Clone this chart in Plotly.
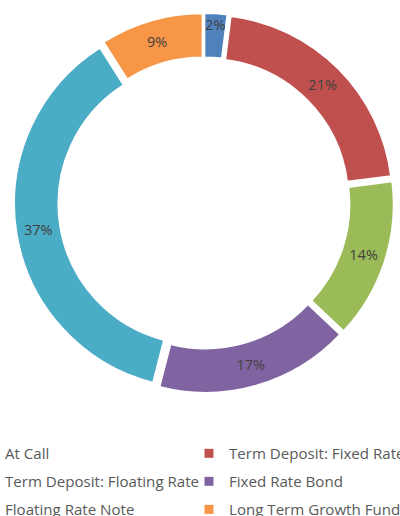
import plotly.graph_objects as go

categories = ["At Call", "Term Deposit: Fixed Rate", "Term Deposit: Floating Rate",
              "Fixed Rate Bond", "Floating Rate Note", "Long Term Growth Fund"]
values = [2, 21, 14, 17, 37, 9]
colors = ["#4F81BD", "#C0504D", "#9BBB59", "#8064A2", "#4BACC6", "#F79646"]

W, H = 400, 516
cx, cy, R = 204, 203, 190
PULL = 0.027

fig = go.Figure()
fig.add_trace(go.Pie(
    labels=categories,
    values=values,
    sort=False,
    direction="clockwise",
    rotation=0,
    hole=0.76,
    pull=[PULL] * len(values),
    marker=dict(colors=colors, line=dict(color="white", width=2)),
    texttemplate="%{percent:.0%}",
    textposition="inside",
    insidetextorientation="horizontal",
    textfont=dict(family="Open Sans", size=14.5, color="#404040"),
    domain=dict(x=[(cx - R) / W, (cx + R) / W],
                y=[(H - cy - R) / H, (H - cy + R) / H]),
    showlegend=False,
    hoverinfo="label+percent",
))

# legend entries (two columns, filled row by row)
for i, (name, col) in enumerate(zip(categories, colors)):
    fig.add_trace(go.Scatter(
        x=[None], y=[None], mode="markers", name=name,
        marker=dict(symbol="square", size=9, color=col),
        legend="legend" if i % 2 == 0 else "legend2",
        legendgroup=f"g{i}", showlegend=True, hoverinfo="skip",
    ))

legend_font = dict(family="Open Sans", size=15.1, color="#595959")
legend_common = dict(
    orientation="v", yanchor="top", y=(H - 437) / H, xanchor="left",
    font=legend_font, tracegroupgap=5.4, itemclick=False, itemdoubleclick=False,
    bgcolor="rgba(0,0,0,0)", borderwidth=0,
)

fig.update_layout(
    width=W, height=H,
    margin=dict(l=0, r=0, t=0, b=0, autoexpand=False),
    paper_bgcolor="white",
    plot_bgcolor="white",
    uniformtext=dict(minsize=14.5, mode="show"),
    xaxis=dict(visible=False),
    yaxis=dict(visible=False),
    legend=dict(x=-35 / W, **legend_common),
    legend2=dict(x=189 / W, **legend_common),
)

fig.write_html("out.html", config={"displayModeBar": False},
               post_script="document.body.style.margin='0';")
